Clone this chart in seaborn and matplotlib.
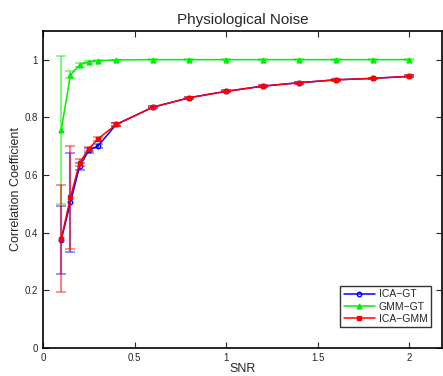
import numpy as np
import pandas as pd
import matplotlib
matplotlib.use("Agg")
import matplotlib.pyplot as plt
import seaborn as sns

snr = [0.1, 0.15, 0.2, 0.25, 0.3, 0.4, 0.6, 0.8, 1.0, 1.2, 1.4, 1.6, 1.8, 2.0]

ica_gt = [0.375, 0.505, 0.63, 0.685, 0.70, 0.775, 0.835, 0.868, 0.89, 0.908, 0.92, 0.93, 0.935, 0.942]
ica_gt_err = [0.118, 0.172, 0.012, 0.008, 0.008, 0.006, 0.004, 0.004, 0.003, 0.003, 0.003, 0.003, 0.003, 0.003]

gmm_gt = [0.757, 0.947, 0.982, 0.993, 0.996, 0.999, 1.0, 1.0, 1.0, 1.0, 1.0, 1.0, 1.0, 1.0]
gmm_gt_err = [0.257, 0.012, 0.006, 0.003, 0.002, 0.001, 0.001, 0.001, 0.001, 0.001, 0.001, 0.001, 0.001, 0.001]

ica_gmm = [0.378, 0.522, 0.642, 0.69, 0.725, 0.775, 0.835, 0.868, 0.89, 0.908, 0.92, 0.93, 0.935, 0.942]
ica_gmm_err = [0.186, 0.18, 0.012, 0.008, 0.008, 0.006, 0.004, 0.004, 0.003, 0.003, 0.003, 0.003, 0.003, 0.003]

sns.set_style("ticks")
plt.rcParams['font.family'] = ['Liberation Sans', 'DejaVu Sans']

fig = plt.figure(figsize=(4.43, 3.76), dpi=100)
ax = fig.add_axes([0.097, 0.075, 0.901, 0.843])

series = [
    ("ICA\u2212GT", ica_gt, ica_gt_err, "#0000ff", "o", "none", 3.2),
    ("GMM\u2212GT", gmm_gt, gmm_gt_err, "#00ee00", "^", None, 3.5),
    ("ICA\u2212GMM", ica_gmm, ica_gmm_err, "#ff0000", "s", None, 2.8),
]

for name, vals, err, col, mk, mfc, ms in series:
    df = pd.DataFrame({"SNR": snr, "val": vals})
    ax.errorbar(snr, vals, yerr=err, fmt="none", ecolor=col, alpha=0.5,
                elinewidth=1.5, capsize=3.5, capthick=1.2)
    sns.lineplot(data=df, x="SNR", y="val", ax=ax, color=col, marker=mk,
                 markersize=ms, linewidth=1.1, label=name,
                 markerfacecolor=(col if mfc is None else "none"),
                 markeredgecolor=col, markeredgewidth=1)

ax.set_xlim(0, 2.18)
ax.set_ylim(0, 1.1)
ax.set_xticks([0, 0.5, 1, 1.5, 2])
ax.set_xticklabels(["0", "0.5", "1", "1.5", "2"])
ax.set_yticks([0, 0.2, 0.4, 0.6, 0.8, 1])
ax.set_yticklabels(["0", "0.2", "0.4", "0.6", "0.8", "1"])
ax.tick_params(direction="in", top=True, right=True, labelsize=7, length=4, width=0.8)
for s in ax.spines.values():
    s.set_linewidth(1.2)
    s.set_color("black")

ax.set_xlabel("SNR", fontsize=9, labelpad=0)
ax.set_ylabel("Correlation Coefficient", fontsize=9, labelpad=2)
ax.set_title("Physiological Noise", fontsize=11, pad=5)

leg = ax.legend(loc="lower right", fontsize=7.5, frameon=True, fancybox=False,
                handlelength=3.0, borderpad=0.3, labelspacing=0.2, handletextpad=0.4,
                bbox_to_anchor=(0.985, 0.05))
leg.get_frame().set_edgecolor("black")
leg.get_frame().set_linewidth(1)

fig.savefig("out.png", dpi=100)
